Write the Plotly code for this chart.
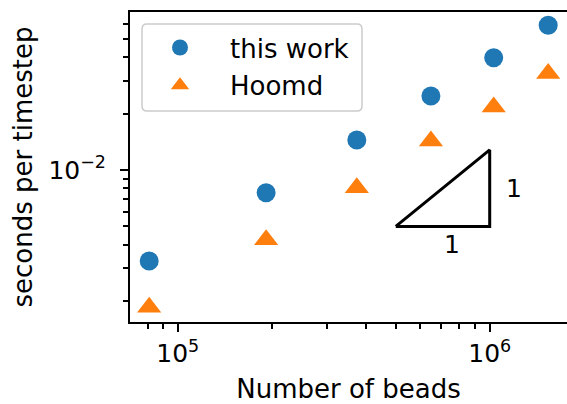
import math
import plotly.graph_objects as go

# Data
beads = [8.1e4, 1.92e5, 3.75e5, 6.48e5, 1.03e6, 1.54e6]
this_work = [3.27e-3, 7.57e-3, 1.445e-2, 2.48e-2, 3.97e-2, 5.92e-2]
hoomd = [1.85e-3, 4.24e-3, 8.05e-3, 1.427e-2, 2.17e-2, 3.27e-2]

# slope guide triangle (data coordinates)
tri_x = [5.0e5, 1.0e6, 1.0e6, 5.0e5]
tri_y = [5.0e-3, 5.0e-3, 1.28e-2, 5.0e-3]
lab_x = [7.55e5, 1.2e6]
lab_y = [3.98e-3, 7.93e-3]
lab_t = ["1", "1"]

x_ticks = [1e5, 1e6]
x_ticktext = ["10<sup>5</sup>", "10<sup>6</sup>"]
x_minor = [8e4, 9e4, 2e5, 3e5, 4e5, 5e5, 6e5, 7e5, 8e5, 9e5]
y_ticks = [1e-2]
y_ticktext = ["10<sup>\u22122</sup>"]
y_minor = [2e-3, 3e-3, 4e-3, 5e-3, 6e-3, 7e-3, 8e-3, 9e-3,
           2e-2, 3e-2, 4e-2, 5e-2, 6e-2, 7e-2]

FONT = "DejaVu Sans"

W, H = 567, 404
ML, MT, MB = 130, 12, 82
PW, PH = W - ML, H - MT - MB

fig = go.Figure()
fig.add_trace(go.Scatter(x=beads, y=this_work, mode="markers", name="this work",
                         legendgroup="a",
                         marker=dict(symbol="circle", size=19, color="#1f77b4")))
fig.add_trace(go.Scatter(x=beads, y=hoomd, mode="markers", name="Hoomd",
                         legendgroup="b",
                         marker=dict(symbol="triangle-up", size=21, color="#ff7f0e")))
fig.add_trace(go.Scatter(x=tri_x, y=tri_y, mode="lines", showlegend=False,
                         line=dict(color="black", width=3)))

for xx, yy, tt in zip(lab_x, lab_y, lab_t):
    fig.add_annotation(x=math.log10(xx), y=math.log10(yy),
                       text=tt, showarrow=False, xref="x", yref="y",
                       font=dict(family=FONT, size=25, color="black"))

# rounded legend frame (paper coords)
bx0, bx1 = 12 / PW, 232 / PW
by1, by0 = 1 - 12 / PH, 1 - 99 / PH
rx, ry = 5 / PW, 5 / PH
path = (f"M {bx0+rx},{by0} L {bx1-rx},{by0} Q {bx1},{by0} {bx1},{by0+ry} "
        f"L {bx1},{by1-ry} Q {bx1},{by1} {bx1-rx},{by1} "
        f"L {bx0+rx},{by1} Q {bx0},{by1} {bx0},{by1-ry} "
        f"L {bx0},{by0+ry} Q {bx0},{by0} {bx0+rx},{by0} Z")
fig.add_shape(type="path", path=path, xref="paper", yref="paper",
              fillcolor="rgba(255,255,255,0.8)", line=dict(color="#cccccc", width=1.5),
              layer="above")

fig.update_layout(
    width=W, height=H,
    margin=dict(l=ML, r=0, t=MT, b=MB, autoexpand=False),
    paper_bgcolor="white", plot_bgcolor="white",
    font=dict(family=FONT, size=25, color="black"),
    showlegend=True,
    legend=dict(x=0.0, y=0.961, xanchor="left", yanchor="top",
                borderwidth=0, bgcolor="rgba(0,0,0,0)",
                font=dict(family=FONT, size=26, color="black"),
                tracegroupgap=1, itemwidth=90, traceorder="grouped"),
    xaxis=dict(type="log", range=[4.847, 6.2478], automargin=False,
               tickvals=x_ticks, ticktext=x_ticktext,
               ticks="outside", ticklen=8, tickwidth=2, tickcolor="black",
               showline=True, linecolor="black", linewidth=2, mirror=True,
               showgrid=False, zeroline=False,
               tickfont=dict(family=FONT, size=25),
               minor=dict(tickvals=x_minor, ticks="outside", ticklen=5,
                          tickwidth=1.5, tickcolor="black", showgrid=False),
               title=dict(text="Number of beads", standoff=22,
                          font=dict(family=FONT, size=26))),
    yaxis=dict(type="log", range=[-2.811, -1.157], automargin=False,
               tickvals=y_ticks, ticktext=y_ticktext,
               ticks="outside", ticklen=8, tickwidth=2, tickcolor="black",
               ticklabelstandoff=9,
               showline=True, linecolor="black", linewidth=2, mirror=False,
               showgrid=False, zeroline=False,
               tickfont=dict(family=FONT, size=25),
               minor=dict(tickvals=y_minor, ticks="outside", ticklen=5,
                          tickwidth=1.5, tickcolor="black", showgrid=False),
               title=dict(text="seconds per timestep", standoff=8,
                          font=dict(family=FONT, size=26))),
)

fig.write_html("out.html", config={"displayModeBar": False},
               post_script="document.body.style.margin='0';"
                           "document.body.style.overflow='hidden';")
